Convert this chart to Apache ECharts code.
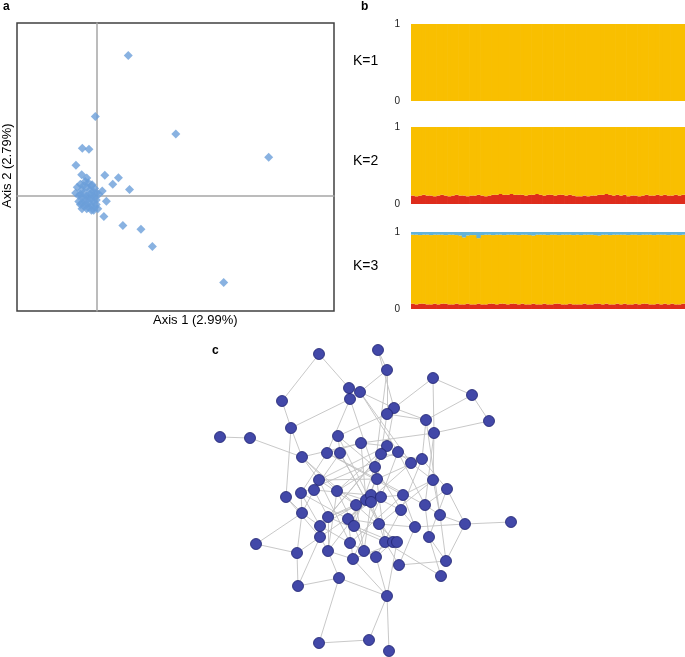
<!DOCTYPE html>
<html>
<head>
<meta charset="UTF-8">
<script src="https://cdn.jsdelivr.net/npm/echarts@6/dist/echarts.min.js"></script>
<style>
  html, body { margin: 0; padding: 0; background: #fff; }
  #main { width: 685px; height: 657px; }
</style>
</head>
<body>
<div id="main"></div>
<script>
// ---- panel a: PCoA scores [axis1, axis2] ----
var pcoaPoints = [
  [0.101, 0.487], [-0.003, 0.275], [0.251, 0.215], [0.544, 0.134],
  [-0.044, 0.165], [-0.023, 0.162], [-0.064, 0.106], [-0.046, 0.073],
  [-0.030, 0.062], [0.027, 0.071], [0.070, 0.063], [0.052, 0.040],
  [0.105, 0.022], [-0.013, 0.038], [0.019, 0.017], [0.032, -0.019],
  [0.024, -0.072], [0.084, -0.103], [0.141, -0.116], [0.177, -0.176],
  [0.402, -0.301]
];
var pcoaCluster = [
  [-0.06, 0.03], [-0.05, 0.04], [-0.045, 0.02], [-0.04, 0.035], [-0.035, 0.05],
  [-0.03, 0.03], [-0.025, 0.045], [-0.02, 0.02], [-0.015, 0.035], [-0.01, 0.015],
  [-0.005, 0.025], [0.0, 0.01], [0.008, 0.005], [-0.065, 0.01], [-0.055, 0.0],
  [-0.05, 0.005], [-0.045, -0.005], [-0.04, 0.01], [-0.035, -0.01], [-0.03, 0.0],
  [-0.025, -0.005], [-0.02, 0.005], [-0.015, -0.01], [-0.01, 0.0], [-0.005, -0.005],
  [0.0, -0.015], [-0.055, -0.02], [-0.05, -0.03], [-0.045, -0.025], [-0.04, -0.035],
  [-0.035, -0.02], [-0.03, -0.03], [-0.025, -0.04], [-0.02, -0.025], [-0.015, -0.035],
  [-0.01, -0.02], [-0.005, -0.04], [0.0, -0.03], [-0.008, -0.05], [-0.03, -0.045],
  [-0.045, -0.045], [-0.015, -0.05], [0.005, -0.045]
];

// ---- panel b: STRUCTURE membership per individual ----
var k2Red = [
  0.11, 0.10, 0.11, 0.12, 0.11, 0.11, 0.10, 0.11, 0.12, 0.11, 0.10, 0.11, 0.12, 0.11, 0.11,
  0.10, 0.11, 0.11, 0.12, 0.11, 0.10, 0.11, 0.12, 0.12, 0.13, 0.12, 0.12, 0.13, 0.12, 0.12,
  0.12, 0.11, 0.12, 0.12, 0.13, 0.12, 0.11, 0.12, 0.12, 0.11, 0.12, 0.12, 0.11, 0.12, 0.11,
  0.10, 0.10, 0.11, 0.10, 0.11, 0.11, 0.12, 0.12, 0.13, 0.12, 0.11, 0.12, 0.11, 0.12, 0.10,
  0.11, 0.11, 0.10, 0.11, 0.12, 0.11, 0.11, 0.12, 0.11, 0.12, 0.11, 0.11, 0.12, 0.11, 0.12
];
var k3Red = [
  0.07, 0.06, 0.07, 0.07, 0.06, 0.06, 0.07, 0.06, 0.07, 0.07, 0.06, 0.06, 0.07, 0.06, 0.06,
  0.07, 0.06, 0.06, 0.07, 0.06, 0.06, 0.07, 0.07, 0.06, 0.07, 0.07, 0.06, 0.07, 0.07, 0.06,
  0.07, 0.06, 0.06, 0.07, 0.06, 0.06, 0.07, 0.06, 0.06, 0.07, 0.07, 0.06, 0.06, 0.07, 0.06,
  0.06, 0.06, 0.07, 0.06, 0.06, 0.07, 0.07, 0.06, 0.07, 0.06, 0.06, 0.07, 0.06, 0.07, 0.06,
  0.06, 0.07, 0.06, 0.07, 0.07, 0.06, 0.06, 0.07, 0.06, 0.07, 0.06, 0.07, 0.06, 0.06, 0.07
];
var k3Blue = [
  0.035, 0.035, 0.04, 0.035, 0.035, 0.04, 0.035, 0.035, 0.035, 0.04, 0.035, 0.035, 0.04, 0.045, 0.07,
  0.045, 0.04, 0.04, 0.08, 0.04, 0.035, 0.035, 0.04, 0.035, 0.035, 0.04, 0.035, 0.035, 0.035, 0.04,
  0.035, 0.035, 0.04, 0.045, 0.035, 0.035, 0.035, 0.04, 0.035, 0.035, 0.04, 0.035, 0.035, 0.035, 0.04,
  0.035, 0.04, 0.035, 0.035, 0.035, 0.04, 0.045, 0.035, 0.035, 0.04, 0.035, 0.035, 0.035, 0.035, 0.04,
  0.035, 0.035, 0.04, 0.035, 0.035, 0.035, 0.04, 0.035, 0.035, 0.035, 0.04, 0.035, 0.035, 0.04, 0.035
];

// ---- panel c: network layout [x, y] and links [source, target] ----
var netNodes = [
  [319, 354], [378, 350], [387, 370], [433, 378], [472, 395], [489, 421], [349, 388], [360, 392],
  [350, 399], [282, 401], [394, 408], [387, 414], [426, 420], [434, 433], [291, 428], [220, 437],
  [250, 438], [338, 436], [361, 443], [387, 446], [381, 454], [398, 452], [302, 457], [327, 453],
  [340, 453], [411, 463], [422, 459], [375, 467], [377, 479], [319, 480], [433, 480], [447, 489],
  [314, 490], [337, 491], [301, 493], [286, 497], [366, 500], [371, 495], [371, 502], [381, 497],
  [403, 495], [356, 505], [401, 510], [425, 505], [302, 513], [440, 515], [328, 517], [348, 519],
  [320, 526], [354, 526], [379, 524], [415, 527], [465, 524], [511, 522], [320, 537], [429, 537],
  [256, 544], [350, 543], [385, 542], [393, 542], [397, 542], [297, 553], [328, 551], [364, 551],
  [353, 559], [376, 557], [399, 565], [446, 561], [441, 576], [339, 578], [298, 586], [387, 596],
  [319, 643], [369, 640], [389, 651]
];
var netLinks = [
  [0, 9], [0, 6], [1, 2], [1, 10], [2, 7], [2, 11], [2, 27], [3, 4], [3, 10], [3, 13], [4, 5],
  [4, 12], [5, 13], [6, 7], [7, 10], [7, 21], [7, 25], [8, 14], [8, 28], [8, 23], [9, 14],
  [10, 12], [10, 19], [11, 12], [11, 17], [11, 20], [12, 26], [13, 18], [13, 30], [14, 35],
  [14, 22], [15, 16], [16, 22], [17, 24], [17, 27], [18, 19], [18, 22], [18, 23], [18, 36],
  [19, 20], [19, 29], [19, 33], [20, 37], [20, 46], [20, 26], [21, 25], [21, 34], [21, 39],
  [22, 29], [22, 33], [22, 41], [23, 34], [23, 40], [23, 28], [24, 36], [24, 32], [24, 50],
  [25, 30], [25, 47], [25, 26], [26, 31], [26, 42], [26, 28], [27, 33], [27, 58], [27, 49],
  [28, 36], [28, 43], [28, 29], [29, 32], [29, 41], [29, 57], [30, 45], [30, 50], [30, 40],
  [31, 52], [31, 43], [31, 55], [32, 44], [32, 46], [32, 37], [33, 49], [33, 38], [34, 44],
  [34, 48], [34, 47], [35, 44], [35, 54], [36, 48], [36, 59], [37, 42], [37, 47], [37, 62],
  [38, 50], [38, 54], [38, 63], [39, 40], [39, 46], [39, 64], [40, 51], [40, 57], [41, 49],
  [41, 60], [41, 63], [42, 51], [42, 65], [43, 45], [43, 55], [44, 56], [44, 61], [44, 48],
  [45, 52], [45, 67], [46, 58], [46, 62], [47, 50], [47, 64], [48, 54], [48, 57], [49, 59],
  [49, 63], [50, 58], [50, 51], [51, 52], [51, 66], [52, 53], [52, 67], [54, 61], [54, 62],
  [55, 68], [55, 67], [56, 61], [57, 63], [57, 65], [58, 66], [58, 68], [59, 65], [60, 71],
  [60, 64], [61, 70], [62, 69], [62, 64], [63, 65], [64, 71], [65, 71], [66, 67], [69, 70],
  [69, 71], [69, 72], [70, 54], [71, 73], [71, 74], [72, 73], [46, 36], [47, 36], [43, 21],
  [42, 27], [62, 33], [13, 43], [12, 45], [19, 46], [17, 38]
];

var ORANGE = '#F9BF00', RED = '#DE2C1C', BLUE = '#62B3DA';
var FONT = 'Liberation Sans, Arial, sans-serif';

var inds = k2Red.map(function (v, i) { return i + 1; });
var ones = k2Red.map(function () { return 1; });
var k2Orange = k2Red.map(function (r) { return +(1 - r).toFixed(3); });
var k3Orange = k3Red.map(function (r, i) { return +(1 - r - k3Blue[i]).toFixed(3); });

var chart = echarts.init(document.getElementById('main'), null, { renderer: 'canvas' });

var hiddenValue = function (idx, min, max, inverse) {
  return {
    type: 'value', gridIndex: idx, min: min, max: max, inverse: !!inverse,
    axisLine: { show: false }, axisTick: { show: false },
    axisLabel: { show: false }, splitLine: { show: false }
  };
};

var structTops = [24, 127, 232];
var grids = [{ left: 17, top: 23, width: 317, height: 288, show: true,
  borderColor: '#404040', borderWidth: 1.5, backgroundColor: 'transparent' }];
structTops.forEach(function (t) {
  grids.push({ left: 411, top: t, width: 274, height: 77 });
});
grids.push({ left: 200, top: 335, width: 330, height: 322 });

var xAxes = [{
  type: 'value', gridIndex: 0, min: -0.25, max: 0.75,
  axisLine: { show: true, onZero: true, lineStyle: { color: '#a6a6a6', width: 1.5 } },
  axisTick: { show: false }, axisLabel: { show: false }, splitLine: { show: false }
}];
var yAxes = [{
  type: 'value', gridIndex: 0, min: -0.4, max: 0.6,
  axisLine: { show: true, onZero: true, lineStyle: { color: '#a6a6a6', width: 1.5 } },
  axisTick: { show: false }, axisLabel: { show: false }, splitLine: { show: false }
}];
[1, 2, 3].forEach(function (g) {
  xAxes.push({ type: 'category', gridIndex: g, data: inds, show: false });
  yAxes.push({
    type: 'value', gridIndex: g, min: 0, max: 1, interval: 1,
    axisLine: { show: false }, axisTick: { show: false }, splitLine: { show: false },
    axisLabel: { show: true, fontSize: 10, color: '#222', margin: 11, fontFamily: FONT }
  });
});
xAxes.push(hiddenValue(4, 200, 530));
yAxes.push(hiddenValue(4, 335, 657, true));

// bars a bit wider than their band so neighbours overlap and no hairline seams show
function structBar(g, name, data, color) {
  return {
    type: 'bar', name: name, xAxisIndex: g, yAxisIndex: g, stack: 'k' + g,
    data: data, barWidth: '118%', barGap: '-100%',
    itemStyle: { color: color }, silent: true
  };
}

var series = [
  {
    type: 'scatter', xAxisIndex: 0, yAxisIndex: 0, symbol: 'diamond', symbolSize: 9,
    itemStyle: { color: '#6C9FD9' }, data: pcoaCluster.concat(pcoaPoints)
  },
  structBar(1, 'Q1', ones, ORANGE),
  structBar(2, 'Q2', k2Red, RED),
  structBar(2, 'Q1', k2Orange, ORANGE),
  structBar(3, 'Q2', k3Red, RED),
  structBar(3, 'Q1', k3Orange, ORANGE),
  structBar(3, 'Q3', k3Blue, BLUE),
  {
    type: 'graph', coordinateSystem: 'cartesian2d', xAxisIndex: 4, yAxisIndex: 4,
    layout: 'none', symbol: 'circle', symbolSize: 11, silent: true,
    itemStyle: { color: '#4248A8', borderColor: '#1E2270', borderWidth: 0.8 },
    lineStyle: { color: '#C2C2C2', width: 0.9, opacity: 1 },
    data: netNodes.map(function (p) { return { value: p }; }),
    links: netLinks.map(function (l) { return { source: l[0], target: l[1] }; })
  }
];

function txt(x, y, text, size, weight, extra) {
  var o = {
    type: 'text', x: x, y: y,
    style: { text: text, font: (weight || 'normal') + ' ' + size + 'px ' + FONT, fill: '#000' }
  };
  if (extra) { for (var k in extra) { o[k] = extra[k]; } }
  return o;
}

var graphics = [
  txt(3, 1, 'a', 12, 'bold'),
  txt(361, 1, 'b', 12, 'bold'),
  txt(212, 345, 'c', 12, 'bold'),
  txt(153, 314, 'Axis 1 (2.99%)', 13),
  txt(1, 208, 'Axis 2 (2.79%)', 13, 'normal', { rotation: Math.PI / 2 }),
  txt(353, 54, 'K=1', 14),
  txt(353, 154, 'K=2', 14),
  txt(353, 259, 'K=3', 14)
];

chart.setOption({
  animation: false,
  grid: grids,
  xAxis: xAxes,
  yAxis: yAxes,
  series: series,
  graphic: graphics
});
</script>
</body>
</html>
